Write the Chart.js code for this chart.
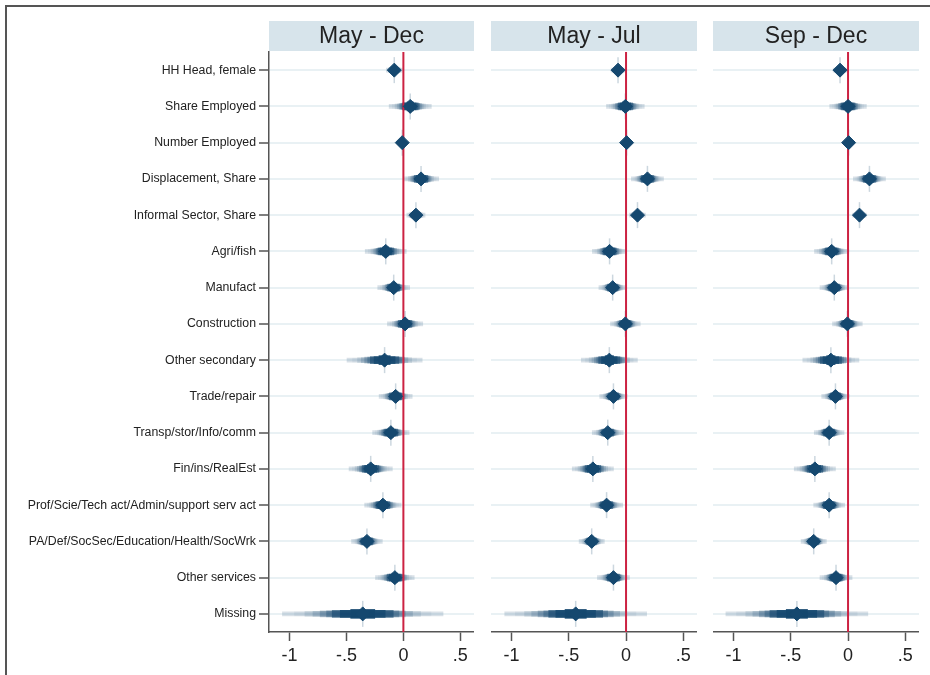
<!DOCTYPE html>
<html><head><meta charset="utf-8">
<script src="https://cdn.jsdelivr.net/npm/chart.js@4"></script>
<style>
html,body{margin:0;padding:0;background:#fff;width:930px;height:675px;overflow:hidden;}
#frame{position:absolute;left:5px;top:5px;width:960px;height:700px;border:2px solid #555;box-sizing:border-box;}
canvas{position:absolute;top:0;}
</style></head><body>
<div id="frame"></div>
<canvas id="c1" width="474" height="675" style="left:0px"></canvas>
<canvas id="c2" width="206" height="675" style="left:491px"></canvas>
<canvas id="c3" width="206" height="675" style="left:713px"></canvas>
<script>
const categories = [
  "HH Head, female", "Share Employed", "Number Employed", "Displacement, Share",
  "Informal Sector, Share", "Agri/fish", "Manufact", "Construction",
  "Other secondary", "Trade/repair", "Transp/stor/Info/comm", "Fin/ins/RealEst",
  "Prof/Scie/Tech act/Admin/support serv act", "PA/Def/SocSec/Education/Health/SocWrk",
  "Other services", "Missing"
];
const panelTitles = ["May - Dec", "May - Jul", "Sep - Dec"];
const xTicks = [-1, -0.5, 0, 0.5];
const xTickLabels = ["-1", "-.5", "0", ".5"];

// point estimates and half-width of the outer confidence band
const estMayDec = [-0.08, 0.06, -0.01, 0.155, 0.11, -0.155, -0.085, 0.015, -0.165, -0.068, -0.11, -0.287, -0.18, -0.32, -0.075, -0.357];
const ciMayDec  = [0.07, 0.185, 0.03, 0.155, 0.08, 0.18, 0.14, 0.155, 0.33, 0.145, 0.16, 0.19, 0.16, 0.135, 0.17, 0.705];
const estMayJul = [-0.07, -0.006, 0.005, 0.187, 0.10, -0.144, -0.117, -0.006, -0.146, -0.11, -0.16, -0.29, -0.17, -0.30, -0.11, -0.44];
const ciMayJul  = [0.06, 0.165, 0.03, 0.14, 0.07, 0.15, 0.12, 0.13, 0.245, 0.12, 0.135, 0.18, 0.14, 0.11, 0.14, 0.62];
const estSepDec = [-0.07, 0.0, 0.005, 0.187, 0.10, -0.143, -0.12, -0.006, -0.15, -0.11, -0.165, -0.29, -0.165, -0.30, -0.105, -0.447];
const ciSepDec  = [0.06, 0.16, 0.03, 0.14, 0.06, 0.15, 0.125, 0.13, 0.245, 0.12, 0.13, 0.18, 0.135, 0.11, 0.14, 0.62];

const FONT = '"Liberation Sans", Arial, Helvetica, sans-serif';
Chart.defaults.font.family = FONT;
const navy = '#15486f';
const red = '#cc2242';
const layers = [
  {f: 1.00, t: 4, a: 0.17},
  {f: 0.85, t: 4, a: 0.06},
  {f: 0.72, t: 5, a: 0.12},
  {f: 0.62, t: 5, a: 0.18},
  {f: 0.53, t: 6, a: 0.25},
  {f: 0.45, t: 6, a: 0.35},
  {f: 0.38, t: 7, a: 0.6},
  {f: 0.28, t: 7, a: 0.8},
  {f: 0.15, t: 9, a: 0.9}
];

const headerPlugin = {
  id: 'panelHeader',
  afterDraw(chart, args, opts) {
    const {ctx, chartArea} = chart;
    ctx.save();
    ctx.fillStyle = '#d7e4eb';
    ctx.fillRect(chartArea.left, 21, chartArea.right - chartArea.left, 30);
    ctx.fillStyle = '#222';
    ctx.font = '23px ' + FONT;
    ctx.textAlign = 'center';
    ctx.textBaseline = 'alphabetic';
    ctx.fillText(opts.text, (chartArea.left + chartArea.right) / 2, 43);
    ctx.restore();
  }
};

function makePanel(id, idx, est, ci) {
  const first = idx === 0;
  const pts = est.map((v, i) => ({x: v, y: i}));
  const datasets = [
    {type: 'scatter', label: 'estimate', data: pts, pointStyle: 'rectRot', pointRadius: 7,
     pointBackgroundColor: navy, pointBorderColor: navy, pointBorderWidth: 1, order: 0},
    {type: 'line', label: 'zero', data: [{x: 0, y: -0.5}, {x: 0, y: categories.length - 0.5}],
     borderColor: red, borderWidth: 2, pointRadius: 0, order: 1},
    {type: 'scatter', label: 'spike', data: pts, pointStyle: 'line', pointRotation: 90, pointRadius: 13,
     pointBorderColor: 'rgba(21,72,111,0.22)', pointBorderWidth: 1.5, order: 2}
  ];
  layers.forEach((L, k) => {
    datasets.push({
      type: 'bar', label: 'ci' + k,
      data: est.map((v, i) => ({y: i, x: [v - ci[i] * L.f, v + ci[i] * L.f]})),
      backgroundColor: 'rgba(21,72,111,' + L.a + ')', barThickness: L.t, grouped: false,
      borderWidth: 0, order: 3 + k
    });
  });
  new Chart(document.getElementById(id), {
    type: 'bar',
    data: {datasets},
    plugins: [headerPlugin],
    options: {
      indexAxis: 'y',
      responsive: false,
      animation: false,
      events: [],
      layout: {autoPadding: false, padding: {top: 52, left: 0, right: 0, bottom: 0}},
      plugins: {legend: {display: false}, tooltip: {enabled: false}, panelHeader: {text: panelTitles[idx]}},
      scales: {
        x: {
          type: 'linear', min: -1.18, max: 0.62, offset: false,
          afterBuildTicks: s => { s.ticks = xTicks.map(v => ({value: v})); },
          ticks: {callback: v => xTickLabels[xTicks.indexOf(v)], font: {size: 18}, color: '#222',
                  padding: 4, maxRotation: 0, autoSkip: false},
          grid: {drawOnChartArea: false, drawTicks: true, tickLength: 9, tickColor: '#555', tickWidth: 1.5, offset: false},
          border: {display: true, color: '#555', width: 1.5},
          afterFit: s => { s.height = 43; s.paddingLeft = 0; s.paddingRight = 0; }
        },
        y: {
          type: 'linear', reverse: true, min: -0.5, max: categories.length - 0.5, offset: false,
          afterBuildTicks: s => { s.ticks = categories.map((_, i) => ({value: i})); },
          ticks: {display: first, callback: v => categories[v], font: {size: 12.3}, color: '#222',
                  padding: 3, autoSkip: false},
          grid: {color: '#e9f1f4', lineWidth: 2, drawTicks: first, tickLength: 10,
                 tickColor: '#555', tickWidth: 1.5, offset: false},
          border: {display: first, color: '#555', width: 1.5},
          afterFit: s => { s.width = first ? 269 : 0; s.paddingTop = 0; s.paddingBottom = 0; }
        }
      }
    }
  });
}

makePanel('c1', 0, estMayDec, ciMayDec);
makePanel('c2', 1, estMayJul, ciMayJul);
makePanel('c3', 2, estSepDec, ciSepDec);
</script>
</body></html>
